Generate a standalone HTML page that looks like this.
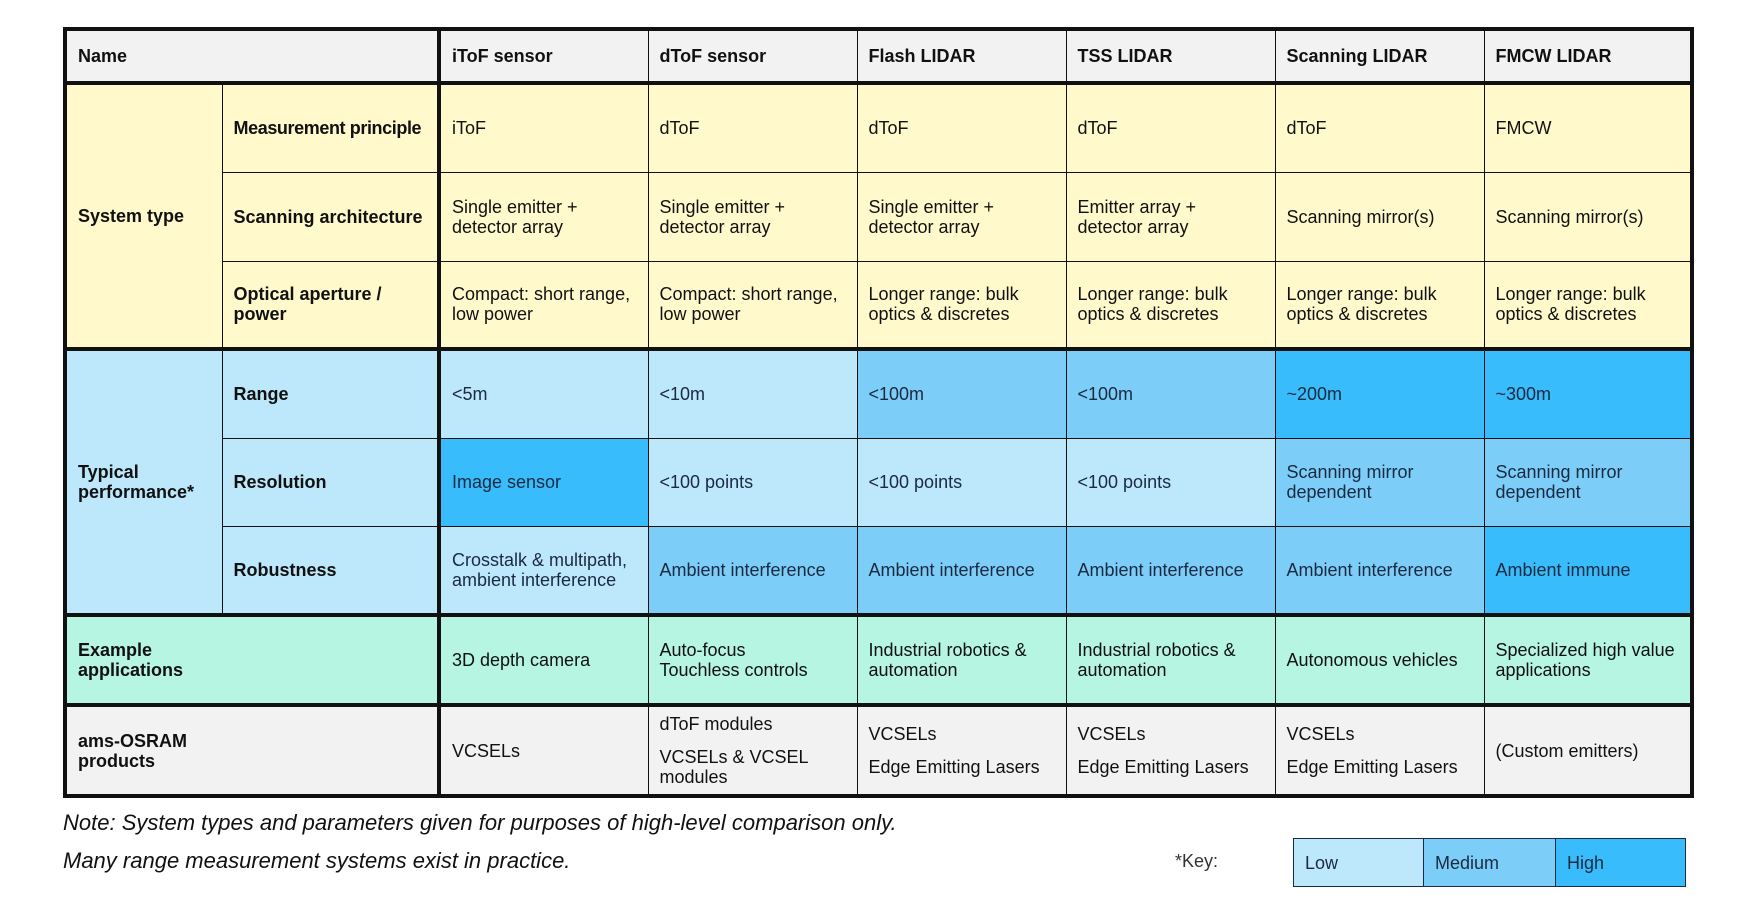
<!DOCTYPE html>
<html><head><meta charset="utf-8"><style>
body{margin:0;width:1744px;height:919px;background:#fff;position:relative;font-family:"Liberation Sans",sans-serif;overflow:hidden}
table{position:absolute;left:63px;top:27px;width:1627px;border-collapse:collapse;table-layout:fixed;font-size:18px;color:#111}
td{border:1px solid #111;padding:0 11px;vertical-align:middle;line-height:20px}
.b{font-weight:bold}
.g{background:#f2f2f2}.y{background:#fff9cc}.l{background:#bde8fb;color:#1a2a40}.m{background:#7dcdf9;color:#1a2a40}.h{background:#38bcfb;color:#1a2a40}.t{background:#b5f5e1}
.tt td{border-top:4px solid #111}
table{border:4px solid #111}
.v{border-left:4px solid #111}
.note{position:absolute;left:63px;font-style:italic;font-size:22px;color:#111}
.key{position:absolute;top:838px;height:49px;border:1px solid #1a2a40;font-size:18px;line-height:49px;padding-left:11px;box-sizing:border-box;color:#1a2a40}
</style></head><body>
<table>
<colgroup><col style="width:157px"><col style="width:217px"><col style="width:209px"><col style="width:209px"><col style="width:209px"><col style="width:209px"><col style="width:209px"><col style="width:208px"></colgroup>
<tr style="height:54px" class="g b"><td colspan="2">Name</td><td class="v">iToF sensor</td><td>dToF sensor</td><td>Flash LIDAR</td><td>TSS LIDAR</td><td>Scanning LIDAR</td><td>FMCW LIDAR</td></tr>
<tr style="height:89px" class="y tt"><td rowspan="3" class="b">System type</td><td class="b" style="white-space:nowrap;letter-spacing:-0.4px;padding-right:0">Measurement principle</td><td class="v">iToF</td><td>dToF</td><td>dToF</td><td>dToF</td><td>dToF</td><td>FMCW</td></tr>
<tr style="height:89px" class="y"><td class="b">Scanning architecture</td><td class="v">Single emitter +<br>detector array</td><td>Single emitter +<br>detector array</td><td>Single emitter +<br>detector array</td><td>Emitter array +<br>detector array</td><td>Scanning mirror(s)</td><td>Scanning mirror(s)</td></tr>
<tr style="height:88px" class="y"><td class="b">Optical aperture /<br>power</td><td class="v">Compact: short range,<br>low power</td><td>Compact: short range,<br>low power</td><td>Longer range: bulk<br>optics &amp; discretes</td><td>Longer range: bulk<br>optics &amp; discretes</td><td>Longer range: bulk<br>optics &amp; discretes</td><td>Longer range: bulk<br>optics &amp; discretes</td></tr>
<tr style="height:89px" class="tt"><td rowspan="3" class="b l" style="color:#111">Typical<br>performance*</td><td class="b l" style="color:#111">Range</td><td class="v l">&lt;5m</td><td class="l">&lt;10m</td><td class="m">&lt;100m</td><td class="m">&lt;100m</td><td class="h">~200m</td><td class="h">~300m</td></tr>
<tr style="height:88px"><td class="b l" style="color:#111">Resolution</td><td class="v h">Image sensor</td><td class="l">&lt;100 points</td><td class="l">&lt;100 points</td><td class="l">&lt;100 points</td><td class="m">Scanning mirror<br>dependent</td><td class="m">Scanning mirror<br>dependent</td></tr>
<tr style="height:89px"><td class="b l" style="color:#111">Robustness</td><td class="v l">Crosstalk &amp; multipath,<br>ambient interference</td><td class="m">Ambient interference</td><td class="m">Ambient interference</td><td class="m">Ambient interference</td><td class="m">Ambient interference</td><td class="h">Ambient immune</td></tr>
<tr style="height:90px" class="t tt"><td colspan="2" class="b">Example<br>applications</td><td class="v">3D depth camera</td><td>Auto-focus<br>Touchless controls</td><td>Industrial robotics &amp;<br>automation</td><td>Industrial robotics &amp;<br>automation</td><td>Autonomous vehicles</td><td>Specialized high value<br>applications</td></tr>
<tr style="height:91px" class="g tt"><td colspan="2" class="b">ams-OSRAM<br>products</td><td class="v">VCSELs</td><td>dToF modules<div style="height:13px"></div>VCSELs &amp; VCSEL<br>modules</td><td>VCSELs<div style="height:13px"></div>Edge Emitting Lasers</td><td>VCSELs<div style="height:13px"></div>Edge Emitting Lasers</td><td>VCSELs<div style="height:13px"></div>Edge Emitting Lasers</td><td>(Custom emitters)</td></tr>
</table>
<div class="note" style="top:810px">Note: System types and parameters given for purposes of high-level comparison only.</div>
<div class="note" style="top:848px">Many range measurement systems exist in practice.</div>
<div style="position:absolute;left:1175px;top:851px;font-size:18px;color:#333">*Key:</div>
<div class="key" style="left:1293px;width:131px;background:#bde8fb">Low</div>
<div class="key" style="left:1423px;width:133px;background:#7dcdf9">Medium</div>
<div class="key" style="left:1555px;width:131px;background:#38bcfb">High</div>
</body></html>
